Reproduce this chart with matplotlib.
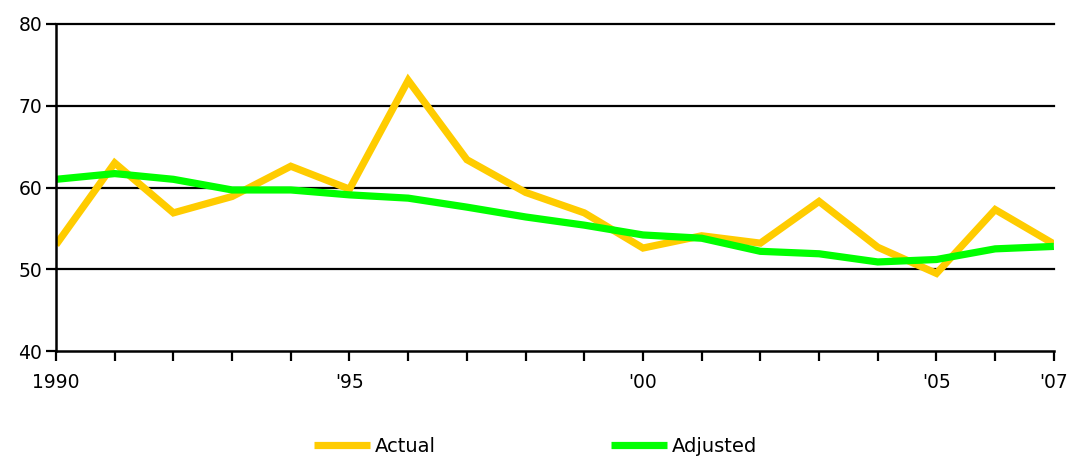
import matplotlib.pyplot as plt

# Data
years = list(range(1990, 2008))
actual = [53.0, 63.0, 56.9, 58.9, 62.6, 59.8, 73.1, 63.4, 59.4, 56.9,
          52.6, 54.1, 53.2, 58.3, 52.7, 49.5, 57.3, 53.1]
adjusted = [61.0, 61.7, 61.0, 59.7, 59.7, 59.1, 58.7, 57.6, 56.4, 55.4,
            54.2, 53.8, 52.2, 51.9, 50.9, 51.2, 52.5, 52.8]
tick_names = {1990: '1990', 1995: "'95", 2000: "'00", 2005: "'05", 2007: "'07"}
yticks = [40, 50, 60, 70, 80]

plt.rcParams['font.family'] = ['DejaVu Sans']

fig = plt.figure(figsize=(10.71, 4.59), dpi=100)
ax = fig.add_axes([0.0523, 0.235, 0.9317, 0.713])

# horizontal grid lines
for v in yticks[1:]:
    ax.axhline(v, color='black', lw=1.6, zorder=1, clip_on=False)

ax.plot(years, actual, color='#FFCC00', lw=5.2, label='Actual',
        solid_joinstyle='miter', solid_capstyle='butt', zorder=3)
ax.plot(years, adjusted, color='#00FF00', lw=5.2, label='Adjusted',
        solid_joinstyle='miter', solid_capstyle='butt', zorder=3)

ax.set_xlim(1990, 2007)
ax.set_ylim(40, 80)
ax.set_yticks(yticks)
ax.set_xticks(years, labels=[tick_names.get(y, '') for y in years])
ax.tick_params(axis='x', direction='out', length=7, width=1.6, pad=9, labelsize=13.5)
ax.tick_params(axis='y', direction='out', length=7, width=1.6, labelsize=13.5, pad=3)

for s in ['top', 'right']:
    ax.spines[s].set_visible(False)
for s in ['left', 'bottom']:
    ax.spines[s].set_linewidth(1.8)
    ax.spines[s].set_zorder(4)

fig.legend(loc='center', bbox_to_anchor=(0.5, 0.028), ncol=2, frameon=False,
           fontsize=14, handlelength=2.9, handletextpad=0.25, columnspacing=9.0)

fig.savefig('out.png', dpi=100)
